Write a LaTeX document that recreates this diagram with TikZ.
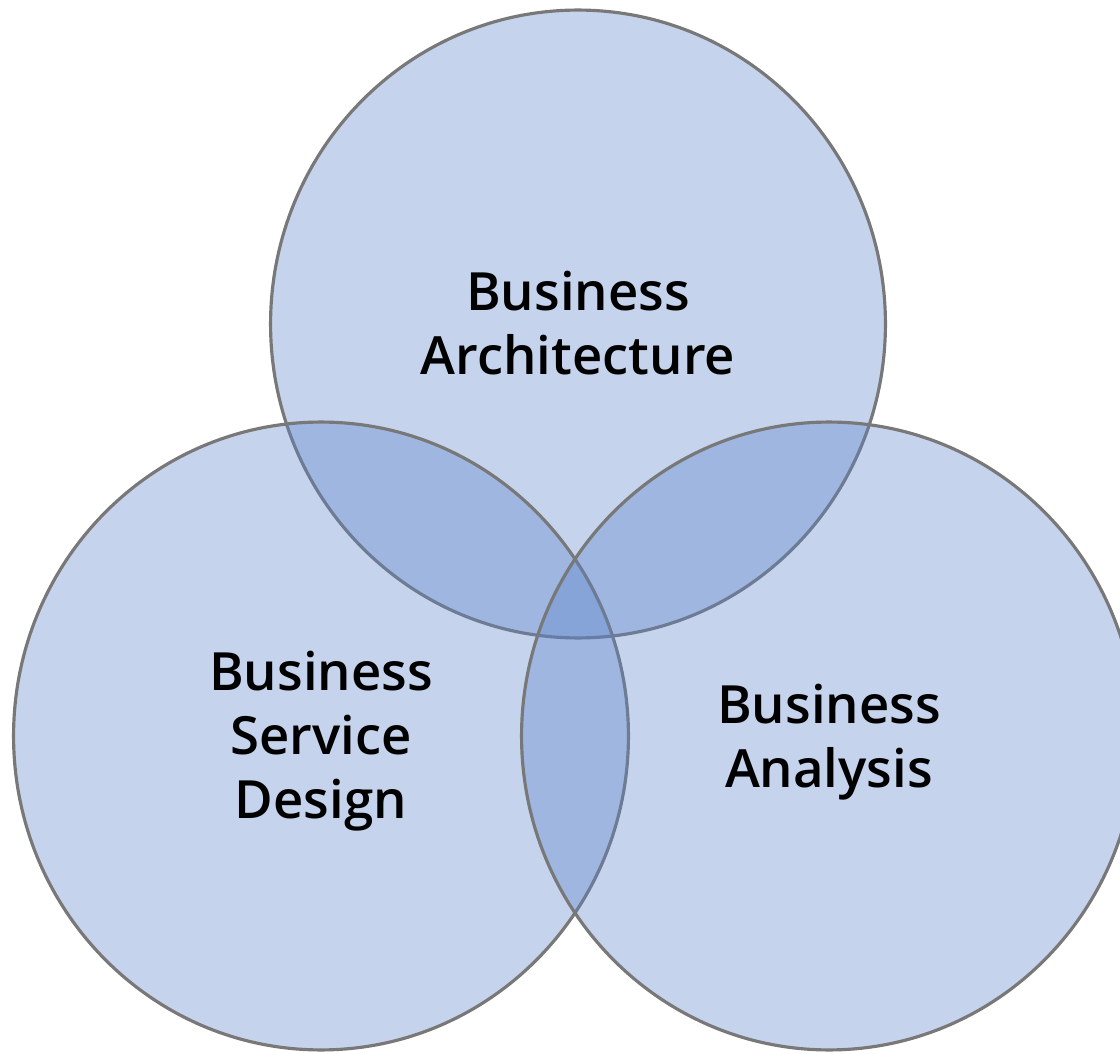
\documentclass[tikz,border=0pt]{standalone}
\usepackage{fontspec}
\setmainfont{Open Sans}[BoldFont={Open Sans Semibold}]
\definecolor{vennblue}{RGB}{89,129,201}
\definecolor{venngray}{RGB}{120,120,120}
\begin{document}
\begin{tikzpicture}[x=0.02cm, y=-0.02cm, line join=round,
	disc/.style={draw=venngray, line width=1.8pt, fill=vennblue, fill opacity=.35},
	lbl/.style={align=center, font=\fontsize{30}{36.5}\selectfont\bfseries, text=black}]
			\def\rx{6.15cm} \def\ry{6.28cm}
			\useasboundingbox (0,0) rectangle (1120,1054);
			\clip (0,0) rectangle (1120,1054);
			\draw[disc] (578,324) ellipse [x radius=\rx, y radius=\ry];
			\draw[disc] (321,736) ellipse [x radius=\rx, y radius=\ry];
			\draw[disc] (829,736) ellipse [x radius=\rx, y radius=\ry];
			\node (arch) at (578,323) [lbl]{Business\\Architecture};
			\node (service) at (321,741) [lbl]{Business\\Service\\Design};
			\node (analysis) at (829,742) [lbl]{Business\\Analysis};
			\end{tikzpicture}
\end{document}
